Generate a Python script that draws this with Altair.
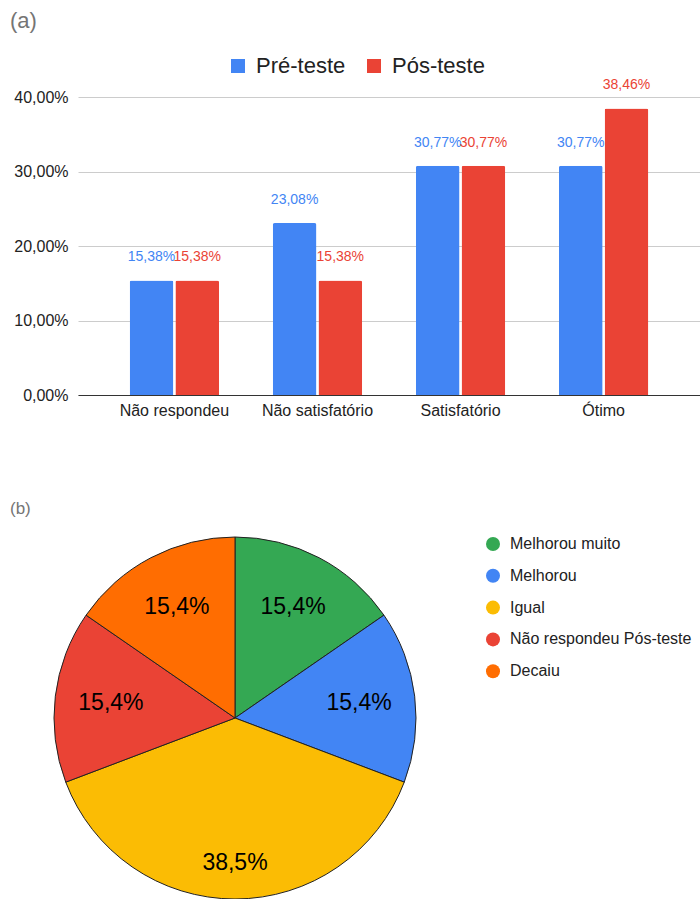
import altair as alt
import pandas as pd

# ---------- data (a) ----------
categorias = ["Não respondeu", "Não satisfatório", "Satisfatório", "Ótimo"]
pre_teste = [15.38, 23.08, 30.77, 30.77]
pos_teste = [15.38, 15.38, 30.77, 38.46]
series = ["Pré-teste", "Pós-teste"]
cores_series = ["#4285F4", "#EA4335"]
y_ticks = [0, 0.1, 0.2, 0.3, 0.4]

# ---------- data (b) ----------
pie_categorias = ["Melhorou muito", "Melhorou", "Igual", "Não respondeu Pós-teste", "Decaiu"]
pie_valores = [15.38, 15.38, 38.46, 15.38, 15.38]
pie_cores = ["#34A853", "#4285F4", "#FBBC04", "#EA4335", "#FF6D01"]

rows = []
for c, a, b in zip(categorias, pre_teste, pos_teste):
    rows.append({"categoria": c, "serie": series[0], "valor": a / 100})
    rows.append({"categoria": c, "serie": series[1], "valor": b / 100})
bar_df = pd.DataFrame(rows)

pie_df = pd.DataFrame({
    "categoria": pie_categorias,
    "pct": pie_valores,
    "ordem": list(range(len(pie_categorias))),
})

FONT = "Liberation Sans"

base = alt.Chart(bar_df).encode(
    x=alt.X("categoria:N", sort=categorias,
            scale=alt.Scale(paddingInner=0.375, paddingOuter=0.361),
            axis=alt.Axis(title=None, labelAngle=0, labelFontSize=16, labelColor="#222222",
                          labelPadding=7, ticks=False, domainColor="#333333", domainWidth=1,
                          grid=False)),
    xOffset=alt.XOffset("serie:N", sort=series,
                        scale=alt.Scale(paddingInner=0.0435, paddingOuter=0)),
    y=alt.Y("valor:Q", scale=alt.Scale(domain=[0, 0.4]),
            axis=alt.Axis(title=None, values=y_ticks,
                          labelExpr="replace(format(datum.value, '.2%'), '.', ',')",
                          domain=False, ticks=False, gridColor="#cccccc", gridWidth=1,
                          labelFontSize=16, labelColor="#222222", labelPadding=10)),
    color=alt.Color("serie:N", sort=series,
                    scale=alt.Scale(domain=series, range=cores_series),
                    legend=alt.Legend(title=None, orient="none", legendX=149, legendY=-42,
                                      direction="horizontal", symbolType="square",
                                      symbolSize=196, symbolStrokeWidth=0,
                                      labelFontSize=22, labelColor="#222222",
                                      labelOffset=7, columnPadding=17, padding=0)),
)

bars = base.mark_bar(cornerRadiusTopLeft=2, cornerRadiusTopRight=2)
bar_labels = base.mark_text(dy=-23, fontSize=14, baseline="middle").encode(
    text="rotulo:N"
).transform_calculate(rotulo="replace(format(datum.valor, '.2%'), '.', ',')")

chart_a = alt.layer(bars, bar_labels).properties(
    width=622, height=298,
    title=alt.TitleParams("(a)", anchor="start", frame="group", dx=-68, fontSize=22,
                          color="#757575", fontWeight="normal", font=FONT, offset=22),
)

# ---------- pie ----------
theta = alt.Theta("pct:Q", stack=True)
order = alt.Order("ordem:Q")
cx = alt.value(157)
cy = alt.value(181)

arcs = alt.Chart(pie_df).mark_arc(radius=181, stroke="#222222", strokeWidth=1).encode(
    theta=theta, order=order, x=cx, y=cy,
    color=alt.Color("categoria:N", sort=pie_categorias,
                    scale=alt.Scale(domain=pie_categorias, range=pie_cores),
                    legend=alt.Legend(title=None, orient="none", legendX=407, legendY=-1,
                                      symbolType="circle", symbolSize=196,
                                      symbolStrokeWidth=0, labelFontSize=16,
                                      labelColor="#222222", labelOffset=9,
                                      rowPadding=15.8, labelLimit=400, padding=0)),
)

pie_small = alt.Chart(pie_df).mark_text(radius=125, fontSize=23, color="black").encode(
    theta=theta, order=order, x=cx, y=cy, text="rotulo:N"
).transform_calculate(
    rotulo="datum.pct < 30 ? replace(format(datum.pct, '.1f'), '.', ',') + '%' : ''"
)
pie_big = alt.Chart(pie_df).mark_text(radius=145, fontSize=23, color="black").encode(
    theta=theta, order=order, x=cx, y=cy, text="rotulo:N"
).transform_calculate(
    rotulo="datum.pct >= 30 ? replace(format(datum.pct, '.1f'), '.', ',') + '%' : ''"
)

chart_b = alt.layer(arcs, pie_small, pie_big).properties(
    width=622, height=362,
    title=alt.TitleParams("(b)", anchor="start", frame="group", dx=-68, fontSize=17,
                          color="#757575", fontWeight="normal", font=FONT, offset=17),
)

chart = alt.vconcat(chart_a, chart_b, spacing=82).resolve_scale(
    color="independent"
).properties(
    padding={"left": 10, "top": 10, "right": 0, "bottom": 0}
).configure(font=FONT).configure_view(stroke=None)

chart.save("out.html", embed_options={"renderer": "svg", "actions": False})
